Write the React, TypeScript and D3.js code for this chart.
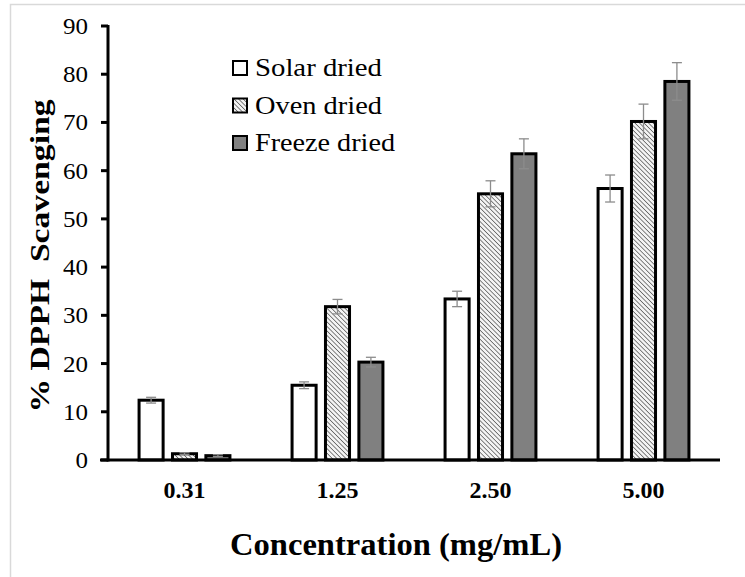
import * as d3 from 'd3';

// values
const categories = ['0.31', '1.25', '2.50', '5.00'];
const seriesNames = ['Solar dried', 'Oven dried', 'Freeze dried'];
const solarValues = [12.4, 15.5, 33.4, 56.3];
const ovenValues = [1.3, 31.8, 55.2, 70.2];
const freezeValues = [0.9, 20.3, 63.5, 78.5];
const solarErr = [0.6, 0.7, 1.6, 2.8];
const ovenErr = [0.2, 1.5, 2.7, 3.6];
const freezeErr = [0.2, 1.0, 3.1, 3.9];
const yTicks = [0, 10, 20, 30, 40, 50, 60, 70, 80, 90];

const fills = ['#ffffff', 'url(#hatch)', '#808080'];
const values = [solarValues, ovenValues, freezeValues];
const errors = [solarErr, ovenErr, freezeErr];

function App() {
  const width = 745;
  const height = 577;
  const serif = "'Liberation Serif', Tinos, 'Nimbus Roman', Times, 'Times New Roman', serif";

  const x0 = d3.scaleBand().domain(categories).range([108, 720]);
  const x1 = d3
    .scaleBand()
    .domain(seriesNames)
    .range([0, x0.bandwidth()])
    .paddingInner(0.28)
    .paddingOuter(0.93);
  const y = d3.scaleLinear().domain([0, 90]).range([460, 26]);

  const bars = [];
  const errBars = [];
  categories.forEach((cat, i) => {
    seriesNames.forEach((name, s) => {
      const v = values[s][i];
      const e = errors[s][i];
      const bx = x0(cat) + x1(name);
      const cx = bx + x1.bandwidth() / 2;
      bars.push(
        <rect
          key={cat + name}
          x={bx}
          y={y(v)}
          width={x1.bandwidth()}
          height={y(0) - y(v)}
          fill={fills[s]}
          stroke="#000"
          strokeWidth={3}
        />
      );
      errBars.push(
        <g key={'e' + cat + name} stroke="#8c8c8c" strokeWidth={1.3}>
          <line x1={cx} x2={cx} y1={y(v + e)} y2={y(v - e)} />
          <line x1={cx - 5} x2={cx + 5} y1={y(v + e)} y2={y(v + e)} />
          <line x1={cx - 5} x2={cx + 5} y1={y(v - e)} y2={y(v - e)} />
        </g>
      );
    });
  });

  return (
    <svg
      width={width}
      height={height}
      style={{ position: 'absolute', left: 0, top: 0, background: '#fff', fontFamily: serif }}
    >
      <defs>
        <pattern
          id="hatch"
          width={3.2}
          height={3.2}
          patternUnits="userSpaceOnUse"
          patternTransform="rotate(-45)"
        >
          <rect width={3.2} height={3.2} fill="#f4f4f4" />
          <line x1={0} y1={0} x2={0} y2={3.2} stroke="#444" strokeWidth={1.3} />
        </pattern>
      </defs>

      {/* outer frame */}
      <rect x={10.5} y={4.5} width={760} height={600} fill="none" stroke="#d9d9d9" strokeWidth={1.5} />

      {bars}
      {errBars}

      {/* axes */}
      <line x1={108} x2={108} y1={y(90) - 1} y2={461.5} stroke="#000" strokeWidth={3} />
      <line x1={100} x2={720} y1={460} y2={460} stroke="#000" strokeWidth={3} />
      {yTicks.map((t) => (
        <g key={t}>
          <line x1={101} x2={108} y1={y(t)} y2={y(t)} stroke="#000" strokeWidth={3} />
          <text
            x={88}
            y={y(t) + 8}
            textAnchor="end"
            fontSize={23}
            textLength={String(t).length * 12.5}
            lengthAdjust="spacingAndGlyphs"
          >
            {t}
          </text>
        </g>
      ))}
      {categories.map((c) => (
        <text
          key={c}
          x={x0(c) + x0.bandwidth() / 2}
          y={498}
          textAnchor="middle"
          fontWeight="bold"
          fontSize={23}
          textLength={42}
          lengthAdjust="spacingAndGlyphs"
        >
          {c}
        </text>
      ))}

      <text
        x={396}
        y={555}
        textAnchor="middle"
        fontWeight="bold"
        fontSize={31}
        textLength={332}
        lengthAdjust="spacingAndGlyphs"
      >
        Concentration (mg/mL)
      </text>
      <text
        transform="translate(49,256) rotate(-90)"
        textAnchor="middle"
        fontWeight="bold"
        fontSize={28}
        textLength={313}
        lengthAdjust="spacingAndGlyphs"
        style={{ whiteSpace: 'pre' }}
      >
        {'% DPPH  Scavenging'}
      </text>

      {/* legend */}
      {seriesNames.map((name, s) => (
        <g key={name} transform={`translate(233,${61 + s * 37.5})`}>
          <rect x={0} y={0} width={14} height={14} fill={fills[s]} stroke="#000" strokeWidth={2} />
          <text
            x={22}
            y={15}
            fontSize={25}
            textLength={[127, 127, 140][s]}
            lengthAdjust="spacingAndGlyphs"
          >
            {name}
          </text>
        </g>
      ))}
    </svg>
  );
}

export default App;
